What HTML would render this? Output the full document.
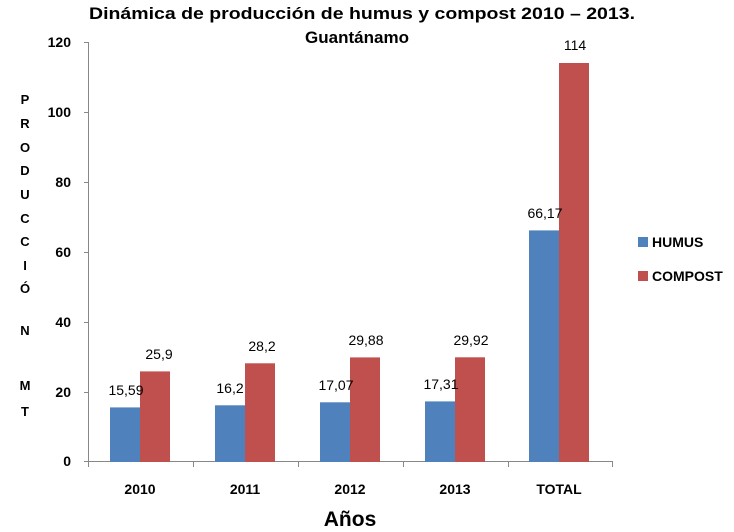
<!DOCTYPE html>
<html><head><meta charset="utf-8"><style>body{margin:0;background:#fff}svg{display:block}text{font-family:"Liberation Sans",sans-serif}</style></head><body>
<svg width="734" height="532" viewBox="0 0 734 532">
<text x="362" y="19" text-anchor="middle" font-size="17" font-weight="bold" textLength="546" lengthAdjust="spacingAndGlyphs">Dinámica de producción de humus y compost 2010 – 2013.</text>
<text x="357" y="43" text-anchor="middle" font-size="17" font-weight="bold">Guantánamo</text>
<g stroke="#888" stroke-width="1" fill="none">
<line x1="88.5" y1="42" x2="88.5" y2="462"/>
<line x1="84" y1="42.5" x2="88" y2="42.5"/><line x1="84" y1="112.5" x2="88" y2="112.5"/><line x1="84" y1="182.5" x2="88" y2="182.5"/><line x1="84" y1="252.5" x2="88" y2="252.5"/><line x1="84" y1="322.5" x2="88" y2="322.5"/><line x1="84" y1="392.5" x2="88" y2="392.5"/><line x1="84" y1="461.5" x2="88" y2="461.5"/>
<line x1="88" y1="461.5" x2="613" y2="461.5"/>
<line x1="193.5" y1="462" x2="193.5" y2="467"/><line x1="298.5" y1="462" x2="298.5" y2="467"/><line x1="403.5" y1="462" x2="403.5" y2="467"/><line x1="508.5" y1="462" x2="508.5" y2="467"/><line x1="612.5" y1="462" x2="612.5" y2="467"/><line x1="88.5" y1="462" x2="88.5" y2="467"/>
</g>
<g font-size="14" font-weight="bold" text-anchor="end">
<text x="71" y="47">120</text><text x="71" y="117">100</text><text x="71" y="187">80</text><text x="71" y="257">60</text><text x="71" y="327">40</text><text x="71" y="397">20</text><text x="71" y="466">0</text>
</g>
<g font-size="13" font-weight="bold" text-anchor="middle">
<text x="25" y="104">P</text><text x="25" y="128">R</text><text x="25" y="152">O</text><text x="25" y="175">D</text><text x="25" y="199">U</text><text x="25" y="223">C</text><text x="25" y="246">C</text><text x="25" y="270">I</text><text x="25" y="293">Ó</text><text x="25" y="335">N</text><text x="25" y="390">M</text><text x="25" y="416">T</text>
</g>
<g fill="#4f81bd">
<rect x="110" y="407.4" width="30" height="54.6"/><rect x="215" y="405.3" width="30" height="56.7"/><rect x="320" y="402.3" width="30" height="59.7"/><rect x="425" y="401.4" width="30" height="60.6"/><rect x="529" y="230.4" width="30" height="231.6"/>
</g>
<g fill="#c0504d">
<rect x="140" y="371.4" width="30" height="90.6"/><rect x="245" y="363.3" width="30" height="98.7"/><rect x="350" y="357.4" width="30" height="104.6"/><rect x="455" y="357.3" width="30" height="104.7"/><rect x="559" y="63" width="30" height="399"/>
</g>
<g font-size="14" text-anchor="middle">
<text x="126" y="395">15,59</text><text x="159" y="359">25,9</text>
<text x="230" y="393">16,2</text><text x="262" y="351">28,2</text>
<text x="336" y="390">17,07</text><text x="366" y="345">29,88</text>
<text x="441" y="389">17,31</text><text x="471" y="345">29,92</text>
<text x="545" y="218">66,17</text><text x="575" y="50">114</text>
</g>
<g font-size="14" font-weight="bold" text-anchor="middle">
<text x="140" y="494">2010</text><text x="245" y="494">2011</text><text x="350" y="494">2012</text><text x="455" y="494">2013</text><text x="559" y="494">TOTAL</text>
</g>
<text x="350" y="526" text-anchor="middle" font-size="21" font-weight="bold">Años</text>
<rect x="638" y="237" width="10" height="10" fill="#4f81bd"/>
<rect x="638" y="271" width="10" height="10" fill="#c0504d"/>
<g font-size="14" font-weight="bold"><text x="652" y="247">HUMUS</text><text x="652" y="281">COMPOST</text></g>
</svg>
</body></html>
